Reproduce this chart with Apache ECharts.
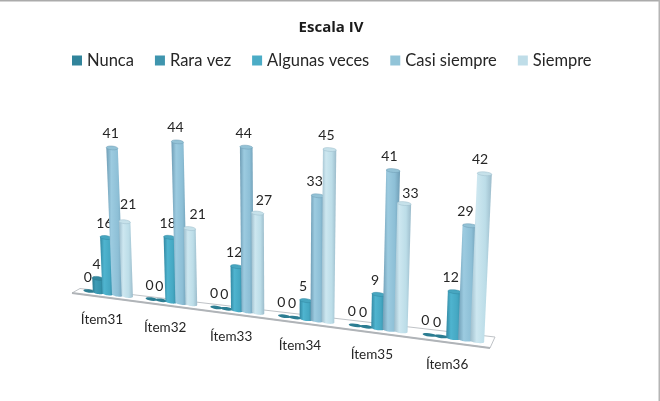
<!DOCTYPE html>
<html>
<head>
<meta charset="utf-8">
<style>html,body{margin:0;padding:0;background:#fff}#chart{width:660px;height:401px}</style>
<script src="https://cdn.jsdelivr.net/npm/echarts@6/dist/echarts.min.js"></script>
</head>
<body>
<div id="chart"></div>
<script>
const categories = ['Ítem31', 'Ítem32', 'Ítem33', 'Ítem34', 'Ítem35', 'Ítem36'];
const seriesNames = ['Nunca', 'Rara vez', 'Algunas veces', 'Casi siempre', 'Siempre'];
const nunca = [0, 0, 0, 0, 0, 0];
const raraVez = [4, 0, 0, 0, 0, 0];
const algunasVeces = [16, 18, 12, 5, 9, 12];
const casiSiempre = [41, 44, 44, 33, 41, 29];
const siempre = [21, 21, 27, 45, 33, 42];
const seriesValues = [nunca, raraVez, algunasVeces, casiSiempre, siempre];

// Cylinder shading per series: edge, highlight, mid tone, flat cap.
const shades = [
  { edge: '#23697c', light: '#3a8ea5', mid: '#31849b', cap: '#2c7d92' },
  { edge: '#2a7c92', light: '#3f9cb6', mid: '#3593ac', cap: '#33879e' },
  { edge: '#3288a2', light: '#4fb4cf', mid: '#45a8c3', cap: '#47a6c0' },
  { edge: '#6f9db5', light: '#9ccbe0', mid: '#8dbfd6', cap: '#93c2d6' },
  { edge: '#9cbccb', light: '#cde7f0', mid: '#bcdde8', cap: '#c6e1ea' }
];
const legendColors = ['#31849b', '#3f95ae', '#4bacc6', '#92c4d8', '#bfdde8'];

// Wall of the chart as seen in perspective; the axis rectangle is projected onto this quad.
const WALL = { bl: [77.3, 289.5], br: [492, 343], tr: [501.6, 141.5], tl: [69, 111.5] };
const BAR_STEP = 0.155;   // bar spacing, as a share of a category band
const BAR_RADIUS = 0.09;  // bar radius, same unit
const VALUE_MAX = 50;

// Labels of the back row that step aside from a taller neighbour: [dx, dy] by "series:category".
const labelNudges = { '4:0': [5, -3], '4:1': [10, 0], '4:2': [9, 1], '4:4': [10, 4] };

// Square-to-quad projective transform.
function buildProjection(q) {
  const [x0, y0] = q.bl, [x1, y1] = q.br, [x2, y2] = q.tr, [x3, y3] = q.tl;
  const dx1 = x1 - x2, dx2 = x3 - x2, sx = x0 - x1 + x2 - x3;
  const dy1 = y1 - y2, dy2 = y3 - y2, sy = y0 - y1 + y2 - y3;
  const den = dx1 * dy2 - dx2 * dy1;
  const g = (sx * dy2 - dx2 * sy) / den;
  const h = (dx1 * sy - sx * dy1) / den;
  const a = x1 - x0 + g * x1, b = x3 - x0 + h * x3, c = x0;
  const d = y1 - y0 + g * y1, e = y3 - y0 + h * y3, f = y0;
  return (s, t) => {
    const w = g * s + h * t + 1;
    return [(a * s + b * t + c) / w, (d * s + e * t + f) / w];
  };
}
const project = buildProjection(WALL);

// Plane coordinates of a data point inside the axis rectangle.
function toUnit(params, api, cat, value, bandOffset) {
  const cs = params.coordSys;
  const p = api.coord([cat, value]);
  const band = api.size([1, 0])[0];
  return [(p[0] + bandOffset * band - cs.x) / cs.width, (cs.y + cs.height - p[1]) / cs.height];
}

function ellipsePoints(left, right, ry, from, to) {
  const cx = (left[0] + right[0]) / 2, cy = (left[1] + right[1]) / 2;
  const ax = (right[0] - left[0]) / 2, ay = (right[1] - left[1]) / 2;
  const pts = [];
  for (let k = 0; k <= 16; k++) {
    const th = from + (to - from) * k / 16;
    pts.push([cx + ax * Math.cos(th), cy + ay * Math.cos(th) + ry * Math.sin(th)]);
  }
  return pts;
}

function renderCylinder(params, api) {
  const idx = params.seriesIndex - 1;
  const cat = api.value(0), value = api.value(1);
  const shade = shades[idx];
  const off = (idx - 2) * BAR_STEP;
  const [s, tTop] = toUnit(params, api, cat, value, off);
  const [, t0] = toUnit(params, api, cat, 0, off);
  const ds = BAR_RADIUS / categories.length;
  const bl = project(s - ds, t0), br = project(s + ds, t0);
  const tl = project(s - ds, tTop), tr = project(s + ds, tTop);
  const ry = 1.9;
  const children = [];
  if (value > 0) {
    const lower = ellipsePoints(bl, br, ry, Math.PI, 0);
    children.push({
      type: 'polygon',
      shape: { points: [tl].concat(lower, [tr]) },
      style: {
        fill: new echarts.graphic.LinearGradient(0, 0, 1, 0, [
          { offset: 0, color: shade.edge },
          { offset: 0.3, color: shade.light },
          { offset: 0.7, color: shade.mid },
          { offset: 1, color: shade.edge }
        ])
      }
    });
    children.push({
      type: 'polygon',
      shape: { points: ellipsePoints(tl, tr, ry, 0, Math.PI * 2) },
      style: { fill: shade.cap, stroke: shade.edge, lineWidth: 0.5 }
    });
  } else {
    children.push({
      type: 'polygon',
      shape: { points: ellipsePoints(bl, br, ry - 0.2, 0, Math.PI * 2) },
      style: { fill: shades[0].cap }
    });
  }
  const top = project(s, tTop);
  const nudge = labelNudges[idx + ':' + cat] || [0, 0];
  children.push({
    type: 'text',
    style: {
      text: String(value),
      x: top[0] - 1 - 3.5 * s + nudge[0],
      y: top[1] - 14 + nudge[1],
      align: 'center',
      verticalAlign: 'middle',
      fontFamily: 'Lato',
      fontSize: 14,
      fill: '#262626'
    }
  });
  return { type: 'group', children };
}

// Floor slab under the bars.
function renderFloor(params, api) {
  const a = project(0, 0), b = project(1, 0);
  const fl = [a[0] - 5.3, a[1] + 3.5], fr = [b[0] - 2, b[1] + 5];
  const bk = [b[0] + 3, b[1] - 6], al = [a[0] + 2.7, a[1] - 1];
  return {
    type: 'group',
    children: [
      {
        type: 'polygon',
        shape: { points: [fl, fr, bk, al] },
        style: { fill: '#ffffff', stroke: '#bfc3c7', lineWidth: 1 }
      },
      {
        type: 'line',
        shape: { x1: fl[0], y1: fl[1], x2: fr[0], y2: fr[1] },
        style: { stroke: '#b0b4b8', lineWidth: 1.8 }
      }
    ]
  };
}

// Category names in front of the floor.
function renderCategoryName(params, api) {
  const cat = api.value(0);
  const [s, t] = toUnit(params, api, cat, 0, 0);
  const p = project(s, t);
  return {
    type: 'text',
    style: {
      text: categories[cat],
      x: p[0] - 6,
      y: p[1] + 26.5,
      align: 'center',
      verticalAlign: 'middle',
      fontFamily: 'Lato',
      fontSize: 13.5,
      fill: '#262626'
    }
  };
}

const chart = echarts.init(document.getElementById('chart'), null, { renderer: 'canvas' });
const dataFor = values => values.map((v, i) => [i, v]);

chart.setOption({
  animation: false,
  backgroundColor: '#ffffff',
  title: {
    text: 'Escala IV',
    left: 326,
    top: 15,
    textAlign: 'center',
    textStyle: { fontFamily: 'Open Sans', fontWeight: 'bold', fontSize: 15, color: '#1a1a1a' }
  },
  legend: {
    left: 67,
    top: 47,
    itemWidth: 10,
    itemHeight: 10,
    itemGap: 21,
    icon: 'rect',
    data: seriesNames,
    textStyle: { fontFamily: 'Lato', fontSize: 16.5, color: '#262626' }
  },
  grid: { left: 70, right: 160, top: 100, bottom: 60 },
  xAxis: { type: 'category', data: categories, show: false },
  yAxis: { type: 'value', min: 0, max: VALUE_MAX, show: false },
  graphic: [
    { type: 'rect', left: 0, top: 0, shape: { width: 660, height: 1.5 }, style: { fill: '#ababab' } },
    { type: 'rect', right: 0, top: 0, shape: { width: 1.5, height: 401 }, style: { fill: '#b5b5b5' } }
  ],
  series: [
    { type: 'custom', silent: true, renderItem: renderFloor, data: [[0, 0]], z: 1 }
  ].concat(seriesNames.map((name, i) => ({
    type: 'custom',
    name,
    z: 2,
    itemStyle: { color: legendColors[i] },
    renderItem: renderCylinder,
    encode: { x: 0, y: 1 },
    data: dataFor(seriesValues[i])
  }))).concat([
    { type: 'custom', silent: true, renderItem: renderCategoryName, data: categories.map((c, i) => [i, 0]), z: 3 }
  ])
});
</script>
</body>
</html>
